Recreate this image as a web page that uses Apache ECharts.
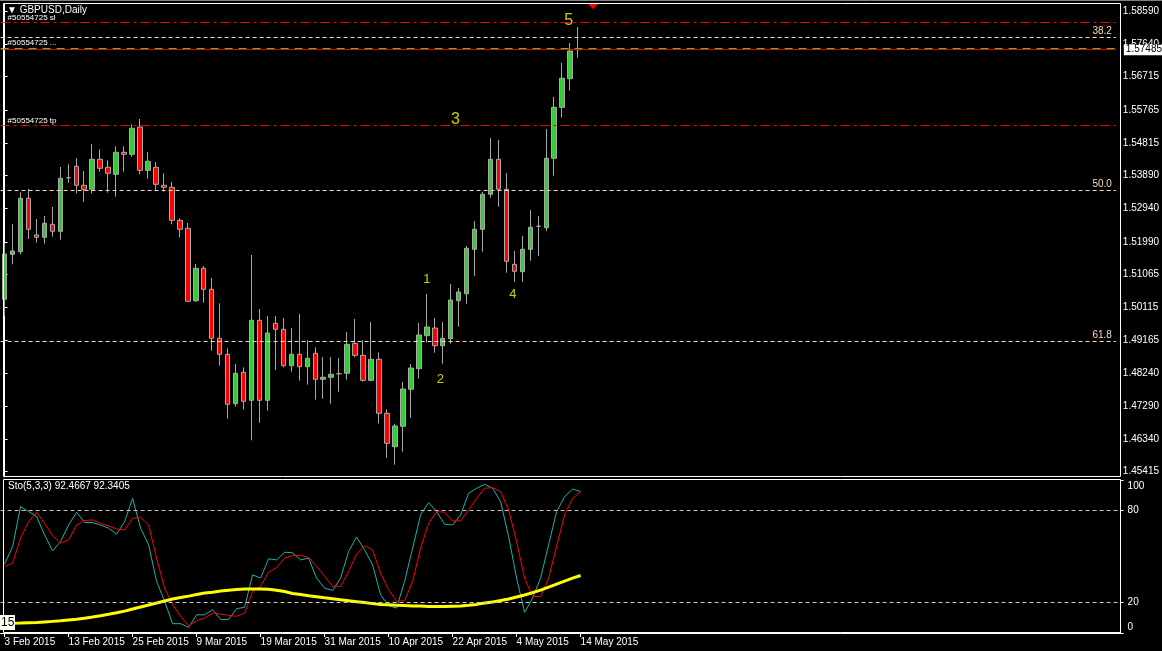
<!DOCTYPE html>
<html>
<head>
<meta charset="utf-8">
<script src="https://cdn.jsdelivr.net/npm/echarts@6/dist/echarts.min.js"></script>
<style>html,body{margin:0;padding:0;background:#000;}#c{width:1162px;height:651px;}</style>
</head>
<body>
<div id="c"></div>
<script>
// ---------------- DATA ----------------
const dates = [
 '3 Feb 2015','4 Feb 2015','5 Feb 2015','6 Feb 2015','9 Feb 2015','10 Feb 2015','11 Feb 2015','12 Feb 2015','13 Feb 2015',
 '16 Feb 2015','17 Feb 2015','18 Feb 2015','19 Feb 2015','20 Feb 2015','23 Feb 2015','24 Feb 2015','25 Feb 2015','26 Feb 2015','27 Feb 2015',
 '2 Mar 2015','3 Mar 2015','4 Mar 2015','5 Mar 2015','6 Mar 2015','9 Mar 2015','10 Mar 2015','11 Mar 2015','12 Mar 2015','13 Mar 2015',
 '16 Mar 2015','17 Mar 2015','18 Mar 2015','19 Mar 2015','20 Mar 2015','23 Mar 2015','24 Mar 2015','25 Mar 2015','26 Mar 2015','27 Mar 2015',
 '30 Mar 2015','31 Mar 2015','1 Apr 2015','2 Apr 2015','3 Apr 2015','6 Apr 2015','7 Apr 2015','8 Apr 2015','9 Apr 2015','10 Apr 2015',
 '13 Apr 2015','14 Apr 2015','15 Apr 2015','16 Apr 2015','17 Apr 2015','20 Apr 2015','21 Apr 2015','22 Apr 2015','23 Apr 2015','24 Apr 2015',
 '27 Apr 2015','28 Apr 2015','29 Apr 2015','30 Apr 2015','1 May 2015','4 May 2015','5 May 2015','6 May 2015','7 May 2015','8 May 2015',
 '11 May 2015','12 May 2015','13 May 2015','14 May 2015'
];
const opens = [
 1.50345,1.51632,1.51706,1.53234,1.52184,1.52118,1.52490,1.52290,1.53823,1.54149,
 1.53605,1.53491,1.54349,1.54120,1.53920,1.54549,1.54492,1.55273,1.54034,1.54120,
 1.53605,1.53548,1.52604,1.52376,1.50305,1.51232,1.50631,1.49230,1.48772,1.47359,
 1.48257,1.47456,1.49744,1.47456,1.49659,1.49487,1.48446,1.48772,1.48417,1.48801,
 1.48057,1.48114,1.48217,1.48229,1.49087,1.48743,1.48028,1.48629,1.47085,1.46129,
 1.46713,1.47771,1.48360,1.49304,1.49524,1.49018,1.49218,1.50305,1.50505,1.51775,
 1.52347,1.53348,1.54349,1.53491,1.51346,1.51134,1.51775,1.52433,1.52393,1.54378,
 1.55836,1.56654,1.57485
];
const closes = [
 1.51641,1.51726,1.53234,1.52347,1.52118,1.52519,1.52290,1.53806,1.53823,1.53605,
 1.53491,1.54349,1.54092,1.53949,1.54549,1.54492,1.55236,1.54034,1.54292,1.53634,
 1.53548,1.52604,1.52347,1.50288,1.51232,1.50631,1.49230,1.48772,1.47342,1.48229,
 1.47428,1.49744,1.47456,1.49381,1.49487,1.48446,1.48772,1.48417,1.48658,1.48057,
 1.48114,1.48200,1.48217,1.49058,1.48743,1.48028,1.48629,1.47085,1.46227,1.46721,
 1.47780,1.48380,1.49324,1.49553,1.49018,1.49230,1.50325,1.50554,1.51804,1.52347,
 1.53348,1.54349,1.53491,1.51432,1.51146,1.51775,1.52404,1.52433,1.54378,1.55836,
 1.56666,1.57446,1.57485
];
const lows = [
 1.49867,1.51346,1.51632,1.52070,1.51964,1.51935,1.52135,1.52050,1.53680,1.53377,
 1.53136,1.53377,1.53994,1.53394,1.53279,1.53994,1.54423,1.53920,1.53794,1.53471,
 1.53422,1.52490,1.52118,1.50268,1.50268,1.50248,1.48875,1.48446,1.46930,1.47273,
 1.47199,1.46312,1.46816,1.47159,1.48323,1.48400,1.48274,1.48017,1.47903,1.47474,
 1.47502,1.47359,1.47702,1.48046,1.48686,1.47988,1.47999,1.46799,1.45815,1.45615,
 1.45986,1.46959,1.48074,1.49104,1.48818,1.48503,1.49075,1.49561,1.50219,1.51011,
 1.51706,1.53251,1.52993,1.51106,1.50848,1.50848,1.51449,1.51583,1.52298,1.53880,
 1.55550,1.56311,1.57255
];
const highs = [
 1.51947,1.52499,1.53405,1.53500,1.52642,1.52727,1.52985,1.54129,1.54206,1.54378,
 1.54014,1.54787,1.54635,1.54320,1.54721,1.54721,1.55350,1.55502,1.54558,1.54272,
 1.53949,1.53700,1.52662,1.52527,1.51355,1.51297,1.50954,1.50231,1.48944,1.48495,
 1.48400,1.51612,1.50068,1.49867,1.49867,1.49810,1.49524,1.49925,1.49172,1.48972,
 1.48695,1.48695,1.48658,1.49410,1.49782,1.49172,1.49696,1.48829,1.47199,1.46787,
 1.47980,1.48495,1.49667,1.50497,1.49810,1.49696,1.50783,1.50668,1.51869,1.52584,
 1.53422,1.54958,1.54901,1.53957,1.51726,1.52155,1.52899,1.52727,1.55216,1.56131,
 1.57103,1.57675,1.58133
];
const stochMain = [
 45,56.5,82.6,79.4,76.1,64.1,53.7,59.8,70.6,78.9,
 72.2,72.2,70.6,68.5,64.6,72.8,88,68.5,57.6,33.7,
 20.7,6.1,6.1,3.7,11.9,11.9,15.2,8.9,8.9,15.9,
 16.8,38,35.9,48.5,47.8,52.8,52.4,47.8,48.9,35.9,
 29.3,27.8,35.9,53.3,62.8,54.3,44.5,25,17.8,16.3,
 33.7,55.4,77.2,85.2,79.4,71.1,70.6,77.2,91.3,94.6,
 97.2,94.6,85.9,63.1,35.9,13.5,22.8,35.9,57.6,79.4,
 89.1,94.1,92.4667
];
const stochSignal = [
 43.5,45.7,62,72.8,78.9,71.7,63.7,58.7,60.9,70.6,
 73.5,73.9,71.7,70,68,67.4,75,75.5,70.6,48.9,
 29.3,18.5,10.9,4.8,8,9.8,13,12.4,11.5,10.9,
 13,27.2,30.5,39.8,42.8,48.9,50.7,50.7,49.4,43.5,
 37,30.5,30.5,40.2,51.5,57,54.3,39.1,28.3,20.7,
 21.1,33.7,55.4,71.7,79.4,78.9,73.3,73.3,80.4,88,
 94.6,95,92.4,80.4,59.8,35.9,23.9,23.9,35.9,56.5,
 77.2,88,92.3405
];
const yellowLine = [
 6.3,6.4,6.5,6.7,6.8,7.2,7.6,8.0,8.5,9.0,
 9.7,10.4,11.3,12.2,13.2,14.3,15.7,17.0,18.3,19.6,
 20.9,22.2,23.2,24.1,25.1,26.1,26.7,27.4,28.0,28.4,
 28.7,28.7,28.7,28.6,28.0,27.1,25.8,25.1,24.3,23.7,
 23.0,22.4,21.7,21.1,20.5,19.9,19.2,18.7,18.4,18.1,
 17.9,17.6,17.6,17.4,17.4,17.4,17.5,17.6,18.1,18.7,
 19.6,20.3,21.2,22.2,23.5,24.8,26.4,28.0,30.0,32.0,
 33.9,35.9,37.6
];
const priceTicks = [1.58590,1.57640,1.56715,1.55765,1.54815,1.53890,1.52940,1.51990,1.51065,1.50115,1.49165,1.48240,1.47290,1.46340,1.45415];
const stochTicks = [0,20,80,100];
const bidPrice = 1.57485;
const slPrice = 1.58267;
const tpPrice = 1.55321;
const tp2Price = 1.57525;
const fibPrices = [1.57838, 1.53462, 1.49132];
const fibLabels = ['38.2', '50.0', '61.8'];
const waveX = [53.0, 54.7, 56.6, 63.8, 70.8];
const waveY = [1.50926, 1.48066, 1.55473, 1.50497, 1.58305];
const waveText = ['1', '2', '3', '4', '5'];
const stochLabel = 'Sto(5,3,3) 92.4667 92.3405';
const titleText = '\u25BC GBPUSD,Daily';
const yellowValueLabel = '15';

// ---------------- BUILD ----------------
const FONT = "'Liberation Sans',Arial,sans-serif";
const N_SLOTS = 140;
const cats = dates.concat(Array.from({length: N_SLOTS - dates.length}, (_, k) => 'pad' + k));
const candleData = dates.map((d, i) => [opens[i], closes[i], lows[i], highs[i]]);
const showIdx = (i) => i % 8 === 0 && i < dates.length;
const bigWaves = new Set(['3', '5']);

function lineItem(y, color, type, labelText, pos, labelColor, dist) {
  return {
    yAxis: y,
    lineStyle: {color: color, type: type, width: 1},
    label: labelText ? {show: true, formatter: labelText, position: pos, color: labelColor,
      fontFamily: FONT, fontSize: pos === 'insideEndTop' ? 10 : 8, distance: dist} : {show: false}
  };
}

const markLines = [
  lineItem(slPrice, '#ff0000', [9, 4, 3, 4], '#50554725 sl', 'insideStartTop', '#ffffff', [7, 1]),
  lineItem(fibPrices[0], '#ffdab9', [4, 3], fibLabels[0], 'insideEndTop', '#ffdab9', [4, 1]),
  lineItem(tp2Price, '#32cd32', [8, 6], '#50554725 ...', 'insideStartTop', '#ffffff', [7, 1]),
  lineItem(tpPrice, '#ff0000', [9, 4, 3, 4], '#50554725 tp', 'insideStartTop', '#ffffff', [7, 1]),
  lineItem(fibPrices[1], '#ffdab9', [4, 3], fibLabels[1], 'insideEndTop', '#ffdab9', [4, 1]),
  lineItem(fibPrices[2], '#ffdab9', [4, 3], fibLabels[2], 'insideEndTop', '#ffdab9', [4, 1]),
  {
    yAxis: bidPrice,
    lineStyle: {color: '#ff0000', type: 'solid', width: 1},
    label: {show: true, position: 'end', formatter: bidPrice.toFixed(5), color: '#000',
      backgroundColor: '#ffffff', padding: [1, 2, 0, 2], fontFamily: FONT, fontSize: 10, distance: 8}
  }
];

const waveData = waveText.map((t, i) => ({
  value: [waveX[i], waveY[i]],
  label: {formatter: t, fontSize: bigWaves.has(t) ? 16 : 13}
}));

const option = {
  backgroundColor: '#000000',
  animation: false,
  grid: [
    {left: 0.6, top: 4, width: 1120, height: 473},
    {left: 0.6, top: 480, width: 1120, height: 153}
  ],
  xAxis: [
    {type: 'category', gridIndex: 0, data: cats, boundaryGap: true, show: false},
    {type: 'value', gridIndex: 0, min: -0.5, max: N_SLOTS - 0.5, show: false},
    {type: 'category', gridIndex: 1, data: cats, boundaryGap: true,
      axisLine: {show: true, lineStyle: {color: '#ffffff', width: 1}},
      axisTick: {show: true, interval: (i) => showIdx(i), alignWithLabel: true, length: 4, lineStyle: {color: '#ffffff'}},
      axisLabel: {show: true, interval: (i) => showIdx(i), align: 'left', margin: 4, color: '#ffffff',
        fontFamily: FONT, fontSize: 10, padding: [0, 0, 0, 0]},
      splitLine: {show: false}
    }
  ],
  yAxis: [
    {type: 'value', gridIndex: 0, position: 'right', min: 1.452628, max: 1.587906, scale: true,
      axisLine: {show: true, lineStyle: {color: '#ffffff'}},
      axisTick: {show: true, length: 3, inside: false, customValues: priceTicks, lineStyle: {color: '#ffffff'}},
      axisLabel: {show: true, customValues: priceTicks, formatter: (v) => v.toFixed(5), color: '#ffffff',
        fontFamily: FONT, fontSize: 10, margin: 7},
      splitLine: {show: false}
    },
    {type: 'value', gridIndex: 1, position: 'right', min: 0, max: 100,
      axisLine: {show: true, lineStyle: {color: '#ffffff'}},
      axisTick: {show: true, length: 3, customValues: stochTicks, lineStyle: {color: '#ffffff'}},
      axisLabel: {show: true, customValues: stochTicks, color: '#ffffff', fontFamily: FONT, fontSize: 10, margin: 7,
        formatter: (v) => v === 100 ? '{a|100}' : (v === 0 ? '{b|0}' : String(v)),
        rich: {
          a: {padding: [12, 0, 0, 0], color: '#ffffff', fontFamily: FONT, fontSize: 10},
          b: {padding: [0, 0, 12, 0], color: '#ffffff', fontFamily: FONT, fontSize: 10}
        }
      },
      splitLine: {show: false}
    }
  ],
  series: [
    {
      name: 'GBPUSD', type: 'candlestick', xAxisIndex: 0, yAxisIndex: 0,
      data: candleData, barWidth: 5,
      itemStyle: {color: '#32cd32', color0: '#ff0000', borderColor: '#a9a9a9', borderColor0: '#a9a9a9',
        borderColorDoji: '#a9a9a9', borderWidth: 1},
      markLine: {silent: true, symbol: ['none', 'none'], animation: false, precision: 5, data: markLines}
    },
    {
      name: 'waves', type: 'scatter', xAxisIndex: 1, yAxisIndex: 0, symbolSize: 0,
      data: waveData,
      label: {show: true, position: 'inside', color: '#ffff00', fontFamily: FONT}
    },
    {
      name: 'K', type: 'line', xAxisIndex: 2, yAxisIndex: 1, data: stochMain,
      showSymbol: false, lineStyle: {color: '#20b2aa', width: 1}, itemStyle: {color: '#20b2aa'},
      markLine: {silent: true, symbol: ['none', 'none'], animation: false, label: {show: false},
        lineStyle: {color: '#c8c8c8', type: [4, 3], width: 1},
        data: [{yAxis: 80}, {yAxis: 20}]}
    },
    {
      name: 'D', type: 'line', xAxisIndex: 2, yAxisIndex: 1, data: stochSignal,
      showSymbol: false, lineStyle: {color: '#ff0000', width: 1}, itemStyle: {color: '#ff0000'}
    },
    {
      name: 'MA', type: 'line', xAxisIndex: 2, yAxisIndex: 1, data: yellowLine,
      showSymbol: false, lineStyle: {color: '#ffff00', width: 3}, itemStyle: {color: '#ffff00'}
    }
  ],
  graphic: [
    {type: 'line', shape: {x1: 0, y1: 0.5, x2: 1162, y2: 0.5}, style: {stroke: '#808080', lineWidth: 1}, silent: true},
    {type: 'rect', shape: {x: 3.5, y: 3.5, width: 1117, height: 473}, style: {fill: 'none', stroke: '#ffffff', lineWidth: 1}, silent: true, z: 10},
    {type: 'rect', shape: {x: 3.5, y: 479.5, width: 1117, height: 153}, style: {fill: 'none', stroke: '#ffffff', lineWidth: 1}, silent: true, z: 10},
    {type: 'polygon', shape: {points: [[588, 4], [598, 4], [593, 9]]}, style: {fill: '#ff0000'}, silent: true, z: 11},
    {type: 'text', left: 7, top: 5, style: {text: titleText, fill: '#ffffff', font: "10px 'Liberation Sans', Arial, sans-serif"}, silent: true, z: 12},
    {type: 'text', left: 8, top: 481, style: {text: stochLabel, fill: '#ffffff', font: "10px 'Liberation Sans', Arial, sans-serif"}, silent: true, z: 12},
    {type: 'rect', shape: {x: 0, y: 615, width: 15, height: 15}, style: {fill: '#fffff0', stroke: '#000000', lineWidth: 0}, silent: true, z: 12},
    {type: 'text', left: 1, top: 617, style: {text: yellowValueLabel, fill: '#000000', font: "12px 'Liberation Sans', Arial, sans-serif"}, silent: true, z: 13}
  ]
};

const chart = echarts.init(document.getElementById('c'), null, {renderer: 'canvas', width: 1162, height: 651});
chart.setOption(option);
</script>
</body>
</html>
